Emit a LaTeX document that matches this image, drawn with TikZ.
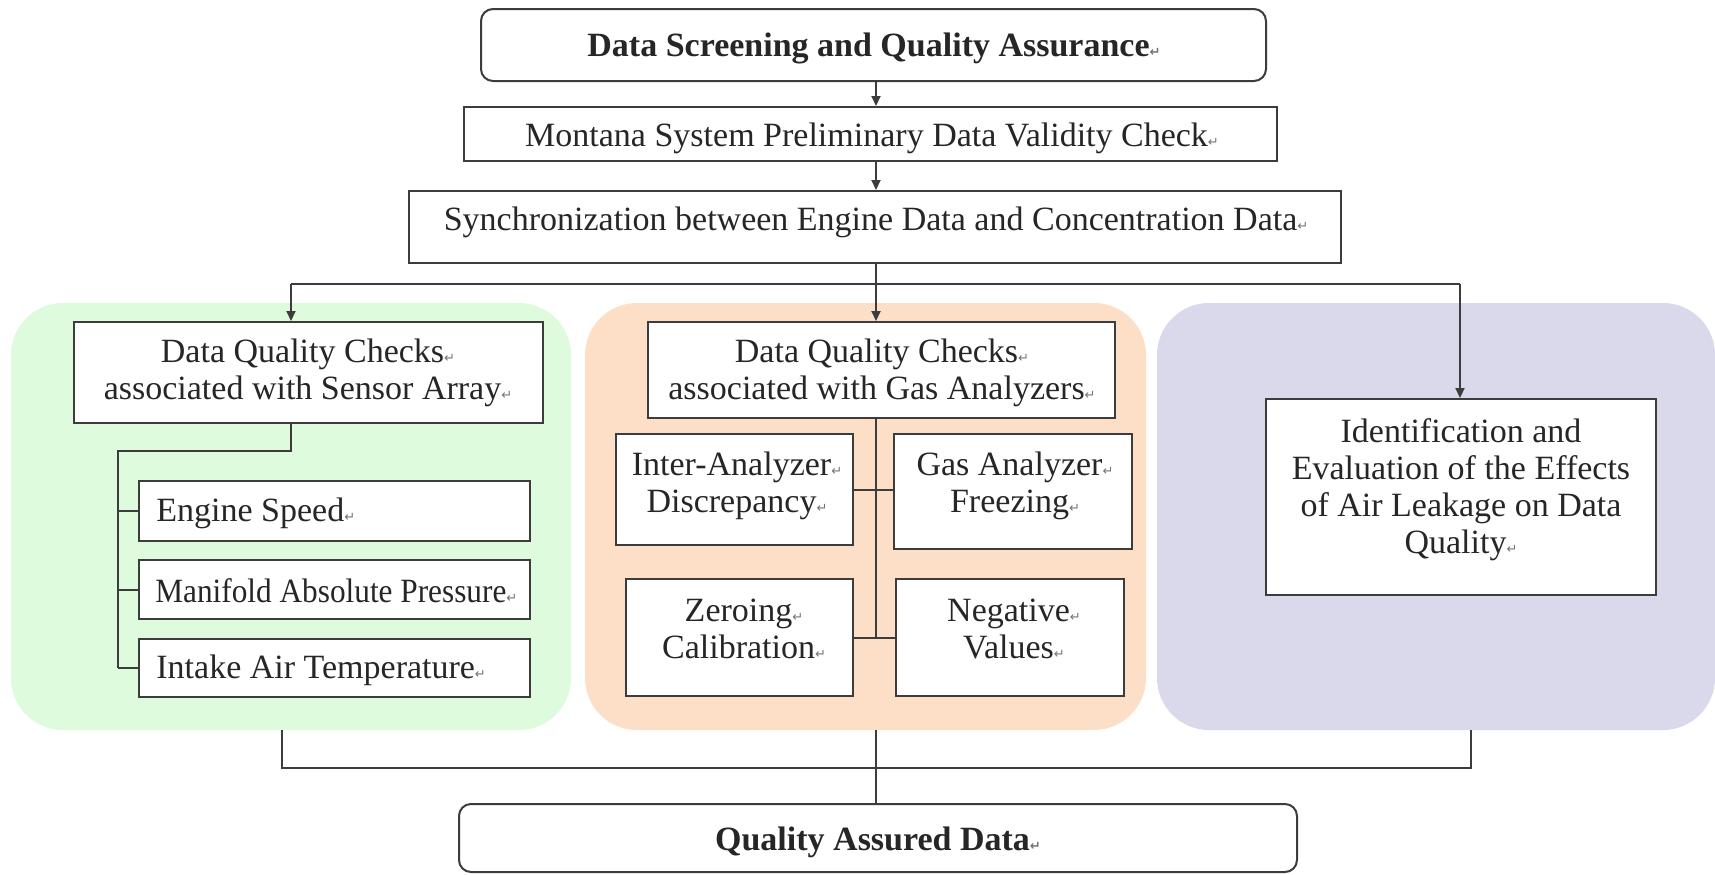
\documentclass[tikz,border=0pt]{standalone}
\usepackage{graphicx}
\usepackage{fontspec}
\setmainfont{Liberation Serif}
\newfontfamily\dejavu{DejaVu Sans}
\usetikzlibrary{fit,arrows.meta}
\definecolor{pgreen}{HTML}{DEFBDE}
\definecolor{porange}{HTML}{FCDFC6}
\definecolor{pblue}{HTML}{D9D9EB}
\definecolor{ln}{HTML}{3C3C3C}
\newcommand\pmk{{\fontsize{6.5}{6.5}\selectfont\dejavu\textcolor{black!55}{↵}}}
\tikzset{
  box/.style={draw=ln, line width=1pt, fill=white, inner sep=0pt},
  rbox/.style={box, rounded corners=6pt},
  panel/.style={rounded corners=26pt, inner sep=0pt, draw=none},
  txt/.style={font=\fontsize{17}{18.5}\selectfont, align=center, text=black!85, inner sep=0pt},
  btxt/.style={txt, font=\fontsize{17}{18.5}\selectfont\bfseries},
  conn/.style={draw=ln, line width=1pt},
  arr/.style={conn, -{Triangle[length=5pt,width=4.5pt]}},
}
\begin{document}
\begin{tikzpicture}[x=0.5pt,y=-0.5pt]
\useasboundingbox (0,0) rectangle (1715,874);
% panels
\node[panel, fill=pgreen, fit={(11,303) (571,730)}] (pg) {};
\node[panel, fill=porange, fit={(585,303) (1146,730)}] (po) {};
\node[panel, fill=pblue, fit={(1157,303) (1715,730)}] (pb) {};
% top chain
\node[rbox, fit={(481,9) (1266,81)}] (top) {};
\node[btxt] (topt) at (874,48) {Data Screening and Quality Assurance\pmk};
\node[box, fit={(464,107) (1277,161)}] (mont) {};
\node[txt] (montt) at (872,138) {Montana System Preliminary Data Validity Check\pmk};
\node[box, fit={(409,191) (1341,263)}] (sync) {};
\node[txt] (synct) at (876,222) {Synchronization between Engine Data and Concentration Data\pmk};
% sensor array
\node[box, fit={(74,322) (543,423)}] (sens) {};
\node[txt] (senst) at (308,373) {Data Quality Checks\pmk\\associated with Sensor Array\pmk};
\node[box, fit={(139,481) (530,541)}] (es) {};
\node[txt, anchor=west] (est) at (156,513) {Engine Speed\pmk};
\node[box, fit={(139,560) (530,619)}] (map) {};
\node[txt, anchor=west] (mapt) at (155,591) {\scalebox{0.92}[1]{Manifold Absolute Pressure}\pmk};
\node[box, fit={(139,639) (530,697)}] (iat) {};
\node[txt, anchor=west] (iatt) at (156,670) {Intake Air Temperature\pmk};
% gas analyzers
\node[box, fit={(648,322) (1115,418)}] (gas) {};
\node[txt] (gast) at (882,373) {Data Quality Checks\pmk\\associated with Gas Analyzers\pmk};
\node[box, fit={(616,434) (853,545)}] (inter) {};
\node[txt] (intert) at (737,486) {Inter-Analyzer\pmk\\Discrepancy\pmk};
\node[box, fit={(894,434) (1132,549)}] (freeze) {};
\node[txt] (freezet) at (1015,486) {Gas Analyzer\pmk\\Freezing\pmk};
\node[box, fit={(626,579) (853,696)}] (zero) {};
\node[txt] (zerot) at (744,629) {Zeroing\pmk\\Calibration\pmk};
\node[box, fit={(896,579) (1124,696)}] (neg) {};
\node[txt] (negt) at (1014,629) {Negative\pmk\\Values\pmk};
% air leakage
\node[box, fit={(1266,399) (1656,595)}] (air) {};
\node[txt] (airt) at (1461,490) {Identification and\\Evaluation of the Effects\\of Air Leakage on Data\\Quality\pmk};
% output
\node[rbox, fit={(459,804) (1297,872)}] (qad) {};
\node[btxt] (qadt) at (878,842) {Quality Assured Data\pmk};
% coordinates
\coordinate (cx) at (876,0);
\coordinate (bl) at (291,284);
\coordinate (br) at (1460,284);
\coordinate (tl) at (118,451);
\coordinate (bL) at (282,768);
\coordinate (bR) at (1471,768);
% connectors
\draw[arr] (top.south -| cx) -- (mont.north -| cx);
\draw[arr] (mont.south -| cx) -- (sync.north -| cx);
\draw[arr] (sync.south -| cx) -- (gas.north -| cx);
\draw[conn] (bl) -- (br);
\draw[arr] (bl) -- (bl |- sens.north);
\draw[arr] (br) -- (br |- air.north);
\draw[conn] (sens.south -| bl) |- (tl) -- (tl |- iat.west);
\draw[conn] (tl |- es.west) -- (es.west);
\draw[conn] (tl |- map.west) -- (map.west);
\draw[conn] (tl |- iat.west) -- (iat.west);
\draw[conn] (gas.south -| cx) -- (cx |- zero.east);
\draw[conn] (inter.east) -- (freeze.west |- inter.east);
\draw[conn] (zero.east) -- (neg.west |- zero.east);
\draw[conn] (pg.south -| bL) -- (bL) -- (bR) -- (pb.south -| bR);
\draw[conn] (po.south -| cx) -- (qad.north -| cx);
\end{tikzpicture}
\end{document}
